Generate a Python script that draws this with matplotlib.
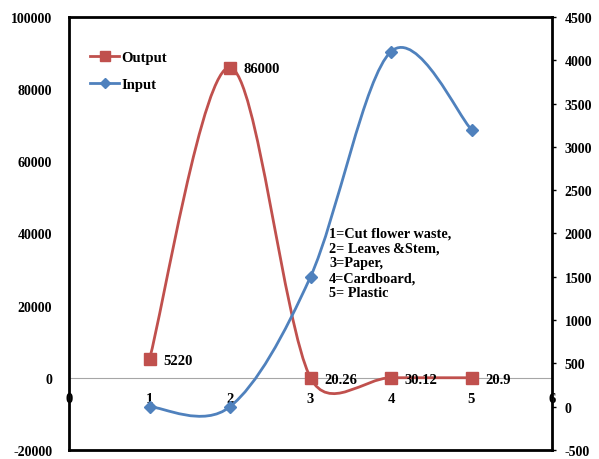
import matplotlib
matplotlib.use("Agg")
import matplotlib.pyplot as plt
import numpy as np
from matplotlib.path import Path
from matplotlib.patches import PathPatch
from matplotlib.lines import Line2D

# data
x_pos = [1, 2, 3, 4, 5]
output_vals = [5220, 86000, 20.26, 30.12, 20.9]
output_labels = ["5220", "86000", "20.26", "30.12", "20.9"]
input_vals = [0, 0, 1500, 4100, 3200]
x_ticks = [0, 1, 2, 3, 4, 5, 6]
left_ticks = [-20000, 0, 20000, 40000, 60000, 80000, 100000]
right_ticks = [-500, 0, 500, 1000, 1500, 2000, 2500, 3000, 3500, 4000, 4500]
note = "1=Cut flower waste,\n2= Leaves\u2009&Stem,\n3=Paper,\n4=Cardboard,\n5= Plastic"

RED = "#C0504D"
BLUE = "#4F81BD"

plt.rcParams['font.family'] = ['Liberation Serif', 'DejaVu Serif']
plt.rcParams['font.weight'] = 'bold'
plt.rcParams['font.size'] = 10


def smooth_patch(ax, xs, ys, color):
    """Excel-like smoothed line: bezier segments built in screen space."""
    pts = ax.transData.transform(np.column_stack([xs, ys]))
    n = len(pts)
    tang = []
    for i in range(n):
        a = pts[max(i - 1, 0)]
        b = pts[min(i + 1, n - 1)]
        tang.append((b - a) / 6.0)
    verts = [pts[0]]
    codes = [Path.MOVETO]
    for i in range(n - 1):
        seg = np.hypot(*(pts[i + 1] - pts[i]))
        t0, t1 = tang[i], tang[i + 1]
        l0, l1 = np.hypot(*t0), np.hypot(*t1)
        if l0 > 0.5 * seg:
            t0 = t0 * 0.5 * seg / l0
        if l1 > 0.5 * seg:
            t1 = t1 * 0.5 * seg / l1
        verts += [pts[i] + t0, pts[i + 1] - t1, pts[i + 1]]
        codes += [Path.CURVE4] * 3
    verts = ax.transData.inverted().transform(np.array(verts))
    ax.add_patch(PathPatch(Path(verts, codes), fill=False, edgecolor=color,
                           lw=2.0, capstyle='round', joinstyle='round', zorder=3))


fig = plt.figure(figsize=(5.99, 4.6), dpi=100)
fig.patch.set_facecolor('white')
ax = fig.add_axes([69 / 599, 1 - 451 / 460, (552 - 69) / 599, (451 - 18) / 460])
ax2 = ax.twinx()

ax.set_xlim(0, 6)
ax.set_ylim(-20000, 100000)
ax2.set_ylim(-500, 4500)

# left axis
ax.set_yticks(left_ticks)
ax.set_yticklabels([str(v) for v in left_ticks])
ax.tick_params(axis='y', length=0, pad=12, labelsize=10)
# category axis crossing at zero
ax.spines['bottom'].set_position(('data', 0))
ax.spines['bottom'].set_color('#A6A6A6')
ax.spines['bottom'].set_linewidth(0.8)
for s in ['top', 'left', 'right']:
    ax.spines[s].set_visible(False)
ax.set_xticks(x_ticks)
ax.set_xticklabels([str(v) for v in x_ticks])
ax.tick_params(axis='x', length=0, pad=10, labelsize=10.5)

# right axis + box
ax2.set_yticks(right_ticks)
ax2.set_yticklabels([str(v) for v in right_ticks])
ax2.tick_params(axis='y', length=3, width=1, pad=6, labelsize=10, direction='out')
for s in ['top', 'bottom', 'left', 'right']:
    ax2.spines[s].set_linewidth(2)
    ax2.spines[s].set_color('black')

ax.set_zorder(0)
ax2.set_zorder(1)
ax.patch.set_visible(False)
ax2.patch.set_visible(False)

smooth_patch(ax, x_pos, output_vals, RED)
ax.plot(x_pos, output_vals, ls='none', marker='s', ms=8.5, color=RED, zorder=4)
for xv, yv, lab in zip(x_pos, output_vals, output_labels):
    ax.annotate(lab, (xv, yv), xytext=(10, -1), textcoords='offset points',
                ha='left', va='center', fontsize=10.5, fontweight='bold', zorder=5)

smooth_patch(ax2, x_pos, input_vals, BLUE)
ax2.plot(x_pos, input_vals, ls='none', marker='D', ms=6.5, color=BLUE, zorder=4)

handles = [Line2D([], [], color=RED, lw=2, marker='s', ms=7),
           Line2D([], [], color=BLUE, lw=2, marker='D', ms=5)]
fig.legend(handles, ["Output", "Input"], loc='upper left', frameon=False,
           bbox_to_anchor=(90 / 599, 1 - 52 / 460), bbox_transform=fig.transFigure,
           borderpad=0, borderaxespad=0, handlelength=2.0, handletextpad=0.15,
           labelspacing=0.95, prop={'weight': 'bold', 'size': 10.5})

fig.text(329 / 599, 1 - 228 / 460, note, ha='left', va='top', fontsize=10.3,
         fontweight='bold', linespacing=1.17)

fig.savefig("out.png", dpi=100, facecolor='white')
